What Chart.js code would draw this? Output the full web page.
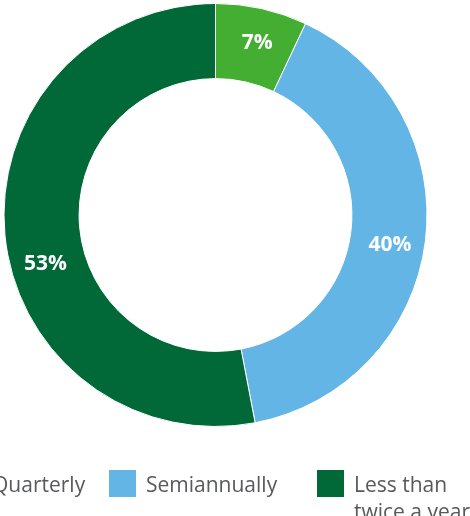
<!DOCTYPE html>
<html>
<head>
<meta charset="utf-8">
<script src="https://cdn.jsdelivr.net/npm/chart.js@4"></script>
<style>
  html, body { margin: 0; padding: 0; background: #fff; overflow: hidden; }
  #chart-wrap { position: absolute; left: 0; top: 0; width: 470px; height: 516px; }
</style>
</head>
<body>
<div id="chart-wrap"><canvas id="doughnut-chart" width="470" height="516"></canvas></div>
<script>
// Frequenza delle revisioni
const categories = ["Quarterly", "Semiannually", ["Less than", "twice a year"]];
const shares = [7, 40, 53];
const sliceColors = ["#44ae32", "#63b5e5", "#006937"];

// Etichette percentuali dentro l'anello
const labelRadius = 177;
const labelAngleNudge = [1, 2.6, -10.6]; // gradi

const percentLabels = {
  id: "percentLabels",
  afterDatasetsDraw(chart) {
    const ctx = chart.ctx;
    const meta = chart.getDatasetMeta(0);
    ctx.save();
    ctx.fillStyle = "#ffffff";
    ctx.font = "bold 21px 'Open Sans'";
    ctx.textAlign = "center";
    ctx.textBaseline = "middle";
    meta.data.forEach((arc, i) => {
      const mid = (arc.startAngle + arc.endAngle) / 2 + (labelAngleNudge[i] * Math.PI) / 180;
      const x = arc.x + Math.cos(mid) * labelRadius;
      const y = arc.y + Math.sin(mid) * labelRadius;
      ctx.fillText(shares[i] + "%", x, y);
    });
    ctx.restore();
  },
};

// Legenda sotto l'anello, disegnata a mano per le righe multiple
const legendBoxX = [-45, 109, 317];
const legendTop = 470;
const legendBox = 27;

const bottomLegend = {
  id: "bottomLegend",
  afterDraw(chart) {
    const ctx = chart.ctx;
    ctx.save();
    ctx.font = "21px 'Open Sans'";
    ctx.textBaseline = "alphabetic";
    ctx.textAlign = "left";
    categories.forEach((cat, i) => {
      const bx = legendBoxX[i];
      ctx.fillStyle = sliceColors[i];
      ctx.fillRect(bx, legendTop, legendBox, legendBox);
      ctx.fillStyle = "#58595b";
      const lines = Array.isArray(cat) ? cat : [cat];
      lines.forEach((line, j) => {
        ctx.fillText(line, bx + legendBox + 10, legendTop + 22 + j * 27);
      });
    });
    ctx.restore();
  },
};

new Chart(document.getElementById("doughnut-chart").getContext("2d"), {
  type: "doughnut",
  data: {
    labels: categories,
    datasets: [
      {
        data: shares,
        backgroundColor: sliceColors,
        borderColor: "#ffffff",
        borderWidth: 1,
      },
    ],
  },
  options: {
    responsive: false,
    animation: false,
    cutout: "64.5%",
    layout: { padding: { left: 3.5, right: 42.5, top: 3, bottom: 89 } },
    plugins: {
      legend: { display: false },
      tooltip: { enabled: false },
    },
  },
  plugins: [percentLabels, bottomLegend],
});
</script>
</body>
</html>
